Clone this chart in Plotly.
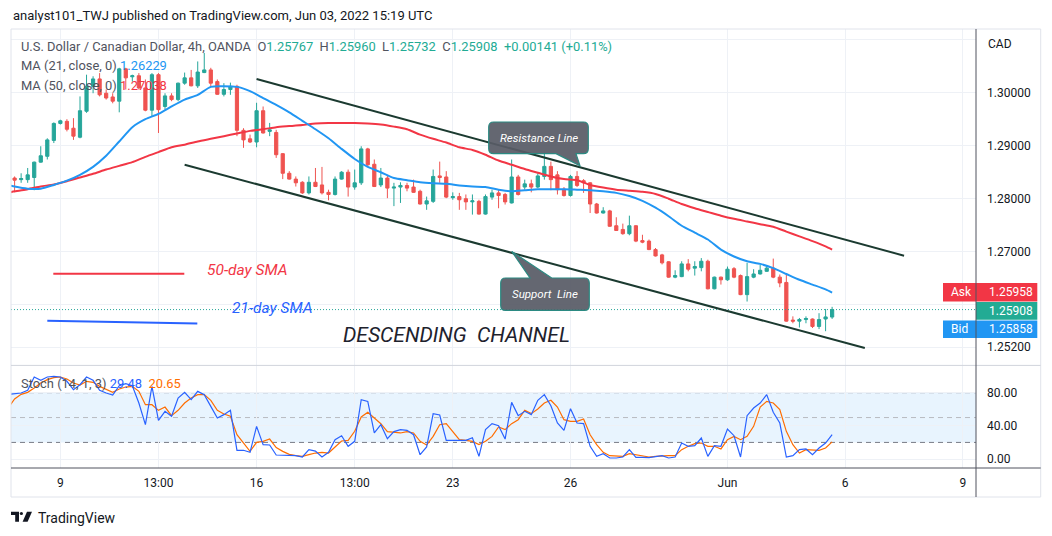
import plotly.graph_objects as go

# ---------------- data ----------------
bars = list(range(126))
opens = [1.2839,1.2836,1.2836,1.2840,1.2869,1.2880,1.2910,1.2942,1.2946,1.2933,
         1.2916,1.2965,1.3012,1.3026,1.2999,1.2992,1.2984,1.3045,1.3030,1.3032,
         1.3009,1.2967,1.3034,1.2974,1.2994,1.2987,1.3018,1.3028,1.3013,1.3038,
         1.3043,1.3021,1.2997,1.3006,1.3012,1.2929,1.2913,1.2907,1.2966,1.2927,
         1.2925,1.2885,1.2848,1.2837,1.2831,1.2811,1.2831,1.2826,1.2812,1.2808,
         1.2837,1.2850,1.2822,1.2830,1.2894,1.2865,1.2826,1.2839,1.2820,1.2822,
         1.2825,1.2822,1.2814,1.2790,1.2795,1.2843,1.2841,1.2802,1.2804,1.2800,
         1.2794,1.2795,1.2771,1.2803,1.2811,1.2808,1.2792,1.2841,1.2822,1.2828,
         1.2822,1.2842,1.2861,1.2845,1.2818,1.2806,1.2842,1.2834,1.2830,1.2790,
         1.2773,1.2777,1.2749,1.2742,1.2734,1.2749,1.2721,1.2720,1.2704,1.2694,
         1.2681,1.2652,1.2653,1.2677,1.2669,1.2670,1.2682,1.2630,1.2652,1.2647,
         1.2668,1.2655,1.2619,1.2652,1.2658,1.2663,1.2669,1.2652,1.2642,1.2571,
         1.2569,1.2572,1.2573,1.2559,1.2573,1.25767]
highs = [1.2842,1.2848,1.2858,1.2870,1.2899,1.2914,1.2944,1.2949,1.2950,1.2952,
         1.2993,1.3034,1.3031,1.3037,1.3006,1.2999,1.3047,1.3047,1.3034,1.3037,
         1.3025,1.3037,1.3037,1.2999,1.2999,1.3019,1.3038,1.3043,1.3059,1.3075,
         1.3047,1.3025,1.3018,1.3019,1.3015,1.2933,1.2921,1.2981,1.2974,1.2943,
         1.2930,1.2886,1.2852,1.2842,1.2833,1.2842,1.2858,1.2860,1.2817,1.2842,
         1.2852,1.2855,1.2855,1.2899,1.2896,1.2874,1.2858,1.2845,1.2830,1.2831,
         1.2830,1.2836,1.2817,1.2804,1.2855,1.2870,1.2852,1.2812,1.2811,1.2808,
         1.2808,1.2798,1.2808,1.2817,1.2817,1.2811,1.2874,1.2845,1.2836,1.2836,
         1.2848,1.2887,1.2870,1.2852,1.2822,1.2845,1.2852,1.2837,1.2831,1.2792,
         1.2784,1.2779,1.2765,1.2753,1.2768,1.2750,1.2732,1.2723,1.2707,1.2696,
         1.2682,1.2665,1.2682,1.2686,1.2682,1.2688,1.2685,1.2653,1.2653,1.2672,
         1.2671,1.2657,1.2679,1.2667,1.2675,1.2674,1.2687,1.2657,1.2657,1.2578,
         1.2575,1.2578,1.2574,1.2584,1.2592,1.25960]
lows = [1.2812,1.2830,1.2830,1.2816,1.2868,1.2874,1.2905,1.2940,1.2927,1.2911,
        1.2914,1.2962,1.2999,1.2993,1.2987,1.2980,1.2963,1.3006,1.3021,1.3006,
        1.2965,1.2955,1.2924,1.2968,1.2984,1.2984,1.3015,1.3012,1.3009,1.3037,
        1.3012,1.2996,1.2993,1.2996,1.2918,1.2896,1.2905,1.2897,1.2923,1.2918,
        1.2877,1.2837,1.2836,1.2823,1.2809,1.2808,1.2822,1.2808,1.2797,1.2806,
        1.2836,1.2804,1.2817,1.2826,1.2861,1.2822,1.2822,1.2801,1.2786,1.2792,
        1.2814,1.2811,1.2789,1.2779,1.2792,1.2830,1.2801,1.2798,1.2779,1.2779,
        1.2770,1.2770,1.2770,1.2798,1.2782,1.2789,1.2791,1.2806,1.2817,1.2812,
        1.2820,1.2836,1.2816,1.2808,1.2804,1.2804,1.2822,1.2811,1.2773,1.2772,
        1.2772,1.2747,1.2740,1.2732,1.2731,1.2718,1.2716,1.2703,1.2691,1.2676,
        1.2651,1.2650,1.2652,1.2663,1.2655,1.2663,1.2629,1.2629,1.2638,1.2645,
        1.2650,1.2618,1.2606,1.2650,1.2657,1.2662,1.2650,1.2633,1.2568,1.2565,
        1.2557,1.2565,1.2556,1.2554,1.2550,1.25732]
closes = [1.2835,1.2838,1.2845,1.2869,1.2881,1.2911,1.2942,1.2947,1.2931,1.2918,
          1.2966,1.3012,1.3026,1.2996,1.2990,1.2984,1.3045,1.3028,1.3032,1.3009,
          1.2967,1.3034,1.2968,1.2994,1.2987,1.3018,1.3028,1.3013,1.3039,1.3043,
          1.3018,1.2997,1.3006,1.3012,1.2929,1.2911,1.2907,1.2966,1.2924,1.2930,
          1.2883,1.2848,1.2837,1.2830,1.2811,1.2831,1.2823,1.2811,1.2808,1.2837,
          1.2850,1.2822,1.2830,1.2894,1.2864,1.2823,1.2839,1.2820,1.2822,1.2825,
          1.2820,1.2812,1.2790,1.2796,1.2842,1.2840,1.2803,1.2804,1.2798,1.2794,
          1.2796,1.2771,1.2804,1.2811,1.2806,1.2794,1.2841,1.2808,1.2828,1.2822,
          1.2843,1.2861,1.2836,1.2817,1.2806,1.2842,1.2825,1.2830,1.2790,1.2773,
          1.2777,1.2748,1.2740,1.2734,1.2749,1.2720,1.2718,1.2704,1.2692,1.2679,
          1.2652,1.2655,1.2677,1.2667,1.2672,1.2682,1.2630,1.2652,1.2647,1.2667,
          1.2652,1.2619,1.2653,1.2658,1.2665,1.2669,1.2652,1.2641,1.2569,1.2569,
          1.2572,1.2574,1.2559,1.2572,1.2577,1.25908]

ma_bars = [-1,0,2,4,6,8,10,12,14,16,18,20,22,24,26,28,30,32,34,36,38,40,42,44,46,48,
           50,52,54,56,58,60,62,64,66,68,70,72,74,76,78,80,82,84,86,88,90,92,94,96,98,
           100,102,104,106,108,110,112,114,116,118,120,122,124,125]
ma21 = [1.2826,1.2823,1.2819,1.2819,1.2826,1.2834,1.2845,1.2860,1.2881,1.2908,1.2935,1.2950,
        1.2960,1.2974,1.2987,1.2996,1.3011,1.3012,1.3011,1.3003,1.2990,1.2977,1.2963,1.2947,
        1.2931,1.2914,1.2894,1.2875,1.2860,1.2850,1.2839,1.2835,1.2831,1.2829,1.2828,1.2825,
        1.2823,1.2822,1.2817,1.2814,1.2816,1.2818,1.2818,1.2818,1.2817,1.2816,1.2814,1.2811,
        1.2805,1.2796,1.2783,1.2767,1.2749,1.2736,1.2723,1.2704,1.2691,1.2682,1.2677,1.2669,
        1.2658,1.2647,1.2638,1.2629,1.2623]
ma50 = [1.2811,1.2814,1.2818,1.2823,1.2827,1.2833,1.2840,1.2847,1.2855,1.2862,1.2869,1.2879,
        1.2888,1.2897,1.2902,1.2908,1.2913,1.2918,1.2923,1.2928,1.2931,1.2935,1.2937,1.2939,
        1.2942,1.2943,1.2943,1.2943,1.2942,1.2940,1.2936,1.2931,1.2921,1.2913,1.2906,1.2897,
        1.2892,1.2883,1.2872,1.2864,1.2856,1.2849,1.2842,1.2837,1.2835,1.2826,1.2821,1.2817,
        1.2815,1.2813,1.2809,1.2800,1.2790,1.2782,1.2775,1.2768,1.2762,1.2757,1.2752,1.2747,
        1.2738,1.2729,1.2720,1.2710,1.2704]

stoch_bars = list(range(-1, 126))
stoch_k = [78.0,
    78.8,79.6,82.8,98.9,94.9,98.9,99.7,98.9,93.7,83.6,
    89.6,98.9,94.9,82.8,79.6,77.2,88.4,90.9,88.4,67.5,
    41.4,87.6,46.6,57.5,51.5,73.6,80.4,71.6,81.6,77.6,
    63.5,49.4,53.5,58.7,10.5,10.5,8.0,39.4,17.3,16.9,
    4.8,4.8,4.0,4.0,2.4,11.3,9.6,2.4,8.0,23.3,
    28.1,15.3,21.3,71.6,69.5,31.4,41.4,24.5,33.0,35.4,
    34.6,29.3,5.2,14.5,54.7,53.1,22.5,22.5,23.3,22.5,
    25.7,3.2,35.4,42.6,40.2,24.1,68.3,52.3,57.5,53.5,
    70.8,77.6,64.3,43.4,34.6,60.7,43.4,42.6,15.3,3.2,
    6.4,1.2,1.2,2.4,11.3,2.0,2.0,1.6,2.8,4.0,
    1.2,2.4,19.3,15.3,16.1,25.3,3.2,16.1,15.3,36.2,
    28.1,2.4,52.3,61.5,67.5,77.6,56.3,43.4,2.4,4.0,
    11.3,12.1,5.2,13.3,19.3,29.48]
stoch_d = [61.5,
    72.4,78.0,80.4,85.6,91.7,95.7,98.1,98.9,96.5,91.7,
    89.2,93.7,92.5,87.6,83.6,80.4,84.4,86.8,87.6,81.6,
    65.5,65.5,58.7,62.7,52.3,58.7,67.5,73.6,77.6,77.6,
    70.8,58.7,54.3,51.5,29.3,18.5,9.2,20.1,21.3,24.1,
    13.7,9.2,5.6,4.0,3.2,5.2,7.2,8.0,7.2,14.5,
    21.7,22.5,33.4,50.7,56.3,49.4,42.6,33.0,32.2,31.4,
    33.0,31.4,21.3,16.9,27.3,41.4,42.6,32.2,23.3,22.5,
    21.3,17.3,21.3,27.3,38.6,35.4,42.6,47.4,58.7,54.7,
    60.3,67.5,70.8,62.7,47.4,45.4,45.4,48.2,29.3,17.3,
    8.0,4.0,3.2,3.2,6.4,5.2,4.0,2.4,3.2,4.0,
    4.0,4.0,11.3,15.3,18.5,19.3,15.3,15.3,12.1,23.3,
    27.3,23.3,27.3,39.4,62.7,69.5,67.5,59.5,33.4,17.3,
    7.2,11.3,10.5,10.5,13.3,20.65]

tick_bars = [7, 22, 37, 52, 67, 85, 109, 127, 145]
tick_labels = ["9", "13:00", "16", "13:00", "23", "26", "Jun", "6", "9"]
price_ticks = [1.252, 1.26, 1.27, 1.28, 1.29, 1.30, 1.31]
price_tick_text = ["1.25200", "", "1.27000", "1.28000", "1.29000", "1.30000", ""]
stoch_ticks = [0, 40, 80]
stoch_tick_text = ["0.00", "40.00", "80.00"]

last_open, last_high, last_low, last_close = 1.25767, 1.25960, 1.25732, 1.25908
ask_price, bid_price = 1.25958, 1.25858
ma21_last, ma50_last = 1.26229, 1.27038
k_last, d_last = 29.48, 20.65

# channel drawing anchors (bar index, price)
upper_channel = [(37.0, 1.30258), (136.0, 1.26925)]
lower_channel = [(26.0, 1.28642), (130.0, 1.25183)]

# ---------------- geometry ----------------
W, H = 1052, 536
L, R, T, B = 11, 976, 29.3, 468.3
SEP = 365.7
FR, FB = 1040.7, 497.3


def PX(px):
    return (px - L) / (R - L)


def PY(py):
    return (B - py) / (B - T)


def P(x, y):
    return f"{PX(x):.5f},{PY(y):.5f}"


split = PY(SEP)
FONT = "Roboto, 'Open Sans', sans-serif"
GREEN, RED = "#26a69a", "#ef5350"
GRID = "#eef1f6"

fig = go.Figure()

fig.add_trace(go.Candlestick(
    x=bars, open=opens, high=highs, low=lows, close=closes,
    increasing=dict(fillcolor=GREEN, line=dict(color=GREEN, width=1)),
    decreasing=dict(fillcolor=RED, line=dict(color=RED, width=1)),
    whiskerwidth=0, xaxis="x", yaxis="y", showlegend=False, hoverinfo="skip"))

fig.add_trace(go.Scatter(x=ma_bars, y=ma50, mode="lines", xaxis="x", yaxis="y",
                         line=dict(color="#f23645", width=2, shape="spline", smoothing=0.6),
                         showlegend=False, hoverinfo="skip"))
fig.add_trace(go.Scatter(x=ma_bars, y=ma21, mode="lines", xaxis="x", yaxis="y",
                         line=dict(color="#2196f3", width=2, shape="spline", smoothing=0.6),
                         showlegend=False, hoverinfo="skip"))

fig.add_trace(go.Scatter(x=stoch_bars, y=stoch_d, mode="lines", xaxis="x", yaxis="y2",
                         line=dict(color="#ff6d00", width=1.2), showlegend=False, hoverinfo="skip"))
fig.add_trace(go.Scatter(x=stoch_bars, y=stoch_k, mode="lines", xaxis="x", yaxis="y2",
                         line=dict(color="#2962ff", width=1.2), showlegend=False, hoverinfo="skip"))

shapes = []
# stoch band and levels
shapes.append(dict(type="rect", xref="x domain", yref="y2", x0=0, x1=1, y0=20, y1=80,
                   fillcolor="rgba(33,150,243,0.10)", line=dict(width=0), layer="below"))
for lvl, col in [(80, "#787b86"), (50, "#b8bac0"), (20, "#787b86")]:
    shapes.append(dict(type="line", xref="x domain", yref="y2", x0=0, x1=1, y0=lvl, y1=lvl,
                       line=dict(color=col, width=1, dash="5px,4px"), layer="below"))

# current price dotted line
shapes.append(dict(type="line", xref="x domain", yref="y", x0=0, x1=1, y0=last_close, y1=last_close,
                   line=dict(color=GREEN, width=1, dash="1px,2px"), layer="above"))

# channel lines
for (x0, y0), (x1, y1) in [upper_channel, lower_channel]:
    shapes.append(dict(type="line", xref="x", yref="y", x0=x0, y0=y0, x1=x1, y1=y1,
                       line=dict(color="#1b3a30", width=2), layer="above"))

# SMA legend drawings
shapes.append(dict(type="line", xref="paper", yref="paper", x0=PX(53.3), x1=PX(184.3),
                   y0=PY(274), y1=PY(274), line=dict(color="#f23645", width=2)))
shapes.append(dict(type="line", xref="paper", yref="paper", x0=PX(47.3), x1=PX(197.3),
                   y0=PY(321), y1=PY(323.7), line=dict(color="#2962ff", width=2)))


def callout_path(x0, y0, x1, y1, r, wedge, side):
    d = f"M {P(x0 + r, y0)} "
    if side == "top":
        (a, tip, b) = wedge
        d += f"L {P(a, y0)} L {P(*tip)} L {P(b, y0)} "
    d += f"L {P(x1 - r, y0)} Q {P(x1, y0)} {P(x1, y0 + r)} "
    d += f"L {P(x1, y1 - r)} Q {P(x1, y1)} {P(x1 - r, y1)} "
    if side == "bottom":
        (a, tip, b) = wedge
        d += f"L {P(a, y1)} L {P(*tip)} L {P(b, y1)} "
    d += f"L {P(x0 + r, y1)} Q {P(x0, y1)} {P(x0, y1 - r)} "
    d += f"L {P(x0, y0 + r)} Q {P(x0, y0)} {P(x0 + r, y0)} Z"
    return d


box_fill = "rgba(88,91,102,0.93)"
box_line = "#2b8a82"
shapes.append(dict(type="path", xref="paper", yref="paper",
                   path=callout_path(488.7, 122.3, 588.3, 154.0, 5, (576, (580, 166), 556), "bottom"),
                   fillcolor=box_fill, line=dict(color=box_line, width=1.2), layer="above"))
shapes.append(dict(type="path", xref="paper", yref="paper",
                   path=callout_path(500.7, 278.3, 589.3, 310.7, 5, (530, (511.7, 251.7), 551.7), "top"),
                   fillcolor=box_fill, line=dict(color=box_line, width=1.2), layer="above"))

# price scale labels
shapes.append(dict(type="rect", xref="paper", yref="paper", x0=PX(943), x1=PX(1037.3),
                   y0=PY(301.7), y1=PY(283.3), fillcolor="#f23645", line=dict(width=0)))
shapes.append(dict(type="rect", xref="paper", yref="paper", x0=PX(976), x1=PX(1037.3),
                   y0=PY(320.0), y1=PY(302.3), fillcolor="#22ab94", line=dict(width=0)))
shapes.append(dict(type="rect", xref="paper", yref="paper", x0=PX(943), x1=PX(1037.3),
                   y0=PY(338.3), y1=PY(320.7), fillcolor="#2196f3", line=dict(width=0)))

# frame and scale borders
shapes.append(dict(type="rect", xref="paper", yref="paper", x0=0, x1=PX(FR), y0=PY(FB), y1=1,
                   line=dict(color="#e0e3eb", width=1), fillcolor="rgba(0,0,0,0)"))
shapes.append(dict(type="line", xref="paper", yref="paper", x0=0, x1=PX(FR), y0=split, y1=split,
                   line=dict(color="#d1d4dc", width=1)))
shapes.append(dict(type="line", xref="paper", yref="paper", x0=0, x1=PX(FR), y0=0, y1=0,
                   line=dict(color="#50535e", width=1)))
shapes.append(dict(type="line", xref="paper", yref="paper", x0=1, x1=1, y0=PY(FB), y1=1,
                   line=dict(color="#50535e", width=1)))

# TradingView logo glyph
logo = "#131722"
shapes.append(dict(type="path", xref="paper", yref="paper", fillcolor=logo, line=dict(width=0),
                   path=f"M {P(11, 512)} L {P(19, 512)} L {P(19, 522)} L {P(15.2, 522)} "
                        f"L {P(15.2, 515.3)} L {P(11, 515.3)} Z"))
shapes.append(dict(type="circle", xref="paper", yref="paper", fillcolor=logo, line=dict(width=0),
                   x0=PX(19.8), x1=PX(23.0), y0=PY(515.4), y1=PY(512.2)))
shapes.append(dict(type="path", xref="paper", yref="paper", fillcolor=logo, line=dict(width=0),
                   path=f"M {P(27.0, 512)} L {P(32, 512)} L {P(27.6, 522)} L {P(22.6, 522)} Z"))

ann = []


def text(px, py, s, size=12, color="#131722", anchor="left", italic=False, family=FONT):
    ann.append(dict(x=PX(px), y=PY(py), xref="paper", yref="paper", text=s, showarrow=False,
                    xanchor=anchor, yanchor="middle",
                    font=dict(size=size, color=color, family=family,
                              style="italic" if italic else "normal")))


GRAY = "#50535e"
TEAL = "#22ab94"
sp = "&nbsp;"
text(11, 16, "analyst101_TWJ published on TradingView.com, Jun 03, 2022 15:19 UTC", 13, "#131722")
text(19, 46.5,
     f"U.S. Dollar / Canadian Dollar, 4h, OANDA{sp}{sp}"
     f"O<span style='color:{TEAL}'>{last_open:.5f}</span>{sp}{sp}"
     f"H<span style='color:{TEAL}'>{last_high:.5f}</span>{sp}{sp}"
     f"L<span style='color:{TEAL}'>{last_low:.5f}</span>{sp}{sp}"
     f"C<span style='color:{TEAL}'>{last_close:.5f}</span>{sp}{sp}"
     f"<span style='color:{TEAL}'>+0.00141 (+0.11%)</span>", 12.9, GRAY)
text(19, 66, f"MA (21, close, 0){sp}<span style='color:#2196f3'>{ma21_last:.5f}</span>", 12.9, GRAY)
text(19, 85.5, f"MA (50, close, 0){sp}<span style='color:#f23645'>{ma50_last:.5f}</span>", 12.9, GRAY)
text(19, 384, f"Stoch (14, 1, 3){sp}<span style='color:#2962ff'>{k_last:.2f}</span>{sp}{sp}"
     f"<span style='color:#ff6d00'>{d_last:.2f}</span>", 12.9, GRAY)

text(205, 270, "50-day SMA", 15.5, "#f23645", italic=True)
text(230, 308, "21-day SMA", 15.5, "#2962ff", italic=True)
text(341, 335.5, f"DESCENDING{sp}{sp}CHANNEL", 21, "#1e222d", italic=True)
text(538.5, 138.5, "Resistance Line", 11.5, "#ffffff", anchor="center", italic=True)
text(545, 294.5, f"Support{sp}{sp}Line", 11.5, "#ffffff", anchor="center", italic=True)

text(1000, 44, "CAD", 12, "#131722", anchor="center")
text(948.5, 292.5, "Ask", 12, "#ffffff")
text(987, 292.5, f"{ask_price:.5f}", 12, "#ffffff")
text(987, 311.2, f"{last_close:.5f}", 12, "#ffffff")
text(948.5, 329.5, "Bid", 12, "#ffffff")
text(987, 329.5, f"{bid_price:.5f}", 12, "#ffffff")

text(36, 518, "TradingView", 14, "#131722")

fig.update_layout(
    width=W, height=H, paper_bgcolor="white", plot_bgcolor="white",
    margin=dict(l=L, r=W - R, t=T, b=H - B, pad=0),
    shapes=shapes, annotations=ann, showlegend=False,
    font=dict(family=FONT, size=12, color="#131722"),
    xaxis=dict(domain=[0, 1], anchor="y2", range=[-0.55, 147.0], tickvals=tick_bars,
               ticktext=tick_labels, showgrid=True, gridcolor=GRID, gridwidth=1, zeroline=False,
               showline=False, ticks="", ticklabelstandoff=6, rangeslider=dict(visible=False),
               tickfont=dict(size=12, color="#131722")),
    yaxis=dict(domain=[split, 1], anchor="x", side="right", range=[1.24855, 1.31202],
               tickvals=price_ticks, ticktext=price_tick_text, showgrid=True, gridcolor=GRID,
               zeroline=False, showline=False, ticks="", ticklabelstandoff=10,
               tickfont=dict(size=12, color="#131722")),
    yaxis2=dict(domain=[0, split], anchor="x", side="right", range=[-10.86, 112.9],
                tickvals=stoch_ticks, ticktext=stoch_tick_text, showgrid=True, gridcolor=GRID,
                zeroline=False, showline=False, ticks="", ticklabelstandoff=10,
                tickfont=dict(size=12, color="#131722")),
)

fig.write_html("out.html", config={"displayModeBar": False},
               post_script="document.body.style.margin='0';document.body.style.padding='0';")
